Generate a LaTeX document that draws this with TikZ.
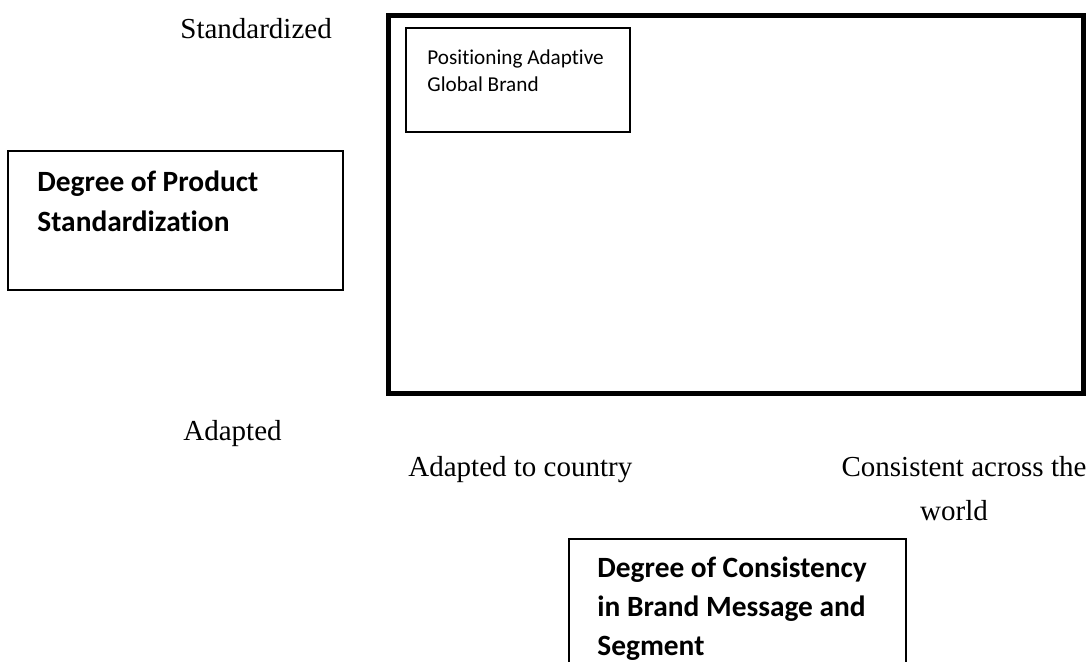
\documentclass[tikz,border=0pt]{standalone}
\usepackage{fontspec}
\setmainfont{Liberation Serif}
\newfontfamily\bodyfont[Ligatures=NoCommon]{Carlito}
\usetikzlibrary{positioning}

\begin{document}
\begin{tikzpicture}[x=0.5pt,y=-0.5pt,
  axislabel/.style={font=\fontsize{14.5}{22}\selectfont,inner sep=0pt},
  thinbox/.style={draw,line width=0.75pt,inner sep=0pt},
  boldtext/.style={font=\bodyfont\bfseries\fontsize{14.7}{20}\selectfont,align=left,inner sep=0pt,anchor=north west},
  smalltext/.style={font=\bodyfont\fontsize{10.6}{13.5}\selectfont,align=left,inner sep=0pt,anchor=north west}]
\useasboundingbox (0,0) rectangle (1087,661);
% the big frame
\node[draw,line width=2.5pt,inner sep=0pt,minimum width=347.5pt,minimum height=189pt,anchor=north west] (grid) at (385.5,12.5) {};
\node[thinbox,minimum width=112pt,minimum height=52pt,anchor=north west] (brandbox) at (405,27) {};
\node[smalltext] (brandtext) at (427,49) {Positioning Adaptive\\Global Brand};
% vertical axis
\node[axislabel,anchor=base west] (stdlabel) at (180,38) {Standardized};
\node[axislabel,anchor=base west] (adplabel) at (183,440) {Adapted};
\node[thinbox,minimum width=167.5pt,minimum height=69.5pt,anchor=north west] (productbox) at (7,150) {};
\node[boldtext] (producttext) at (37,170) {Degree of Product\\Standardization};
% horizontal axis
\node[axislabel,anchor=base west] (countrylabel) at (408,476) {Adapted to country};
\node[axislabel,align=center,anchor=north] (worldlabel) at (964,456) {Consistent across the\\world\hspace*{10pt}};
\node[thinbox,minimum width=168.5pt,minimum height=75pt,anchor=north west] (messagebox) at (568,538) {};
\node[boldtext,font=\bodyfont\bfseries\fontsize{14.7}{19.6}\selectfont] (messagetext) at (597,556) {Degree of Consistency\\in Brand Message and\\Segment};
\end{tikzpicture}
\end{document}
